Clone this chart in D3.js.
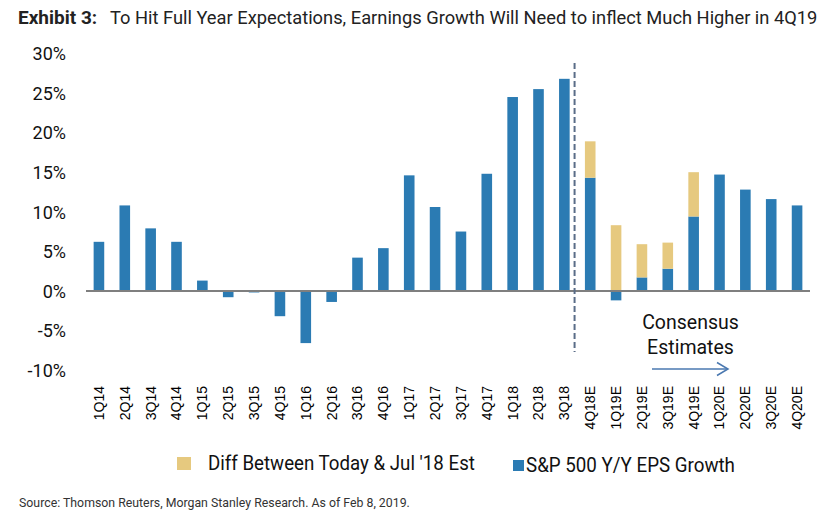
<!DOCTYPE html>
<html>
<head>
<meta charset="utf-8">
<script src="https://cdn.jsdelivr.net/npm/d3@7"></script>
<style>
  html, body { margin: 0; padding: 0; background: #fff; }
  svg { display: block; }
</style>
</head>
<body>
<svg id="chart" width="828" height="517"></svg>
<script>
// ---- data ----
const categories = ["1Q14","2Q14","3Q14","4Q14","1Q15","2Q15","3Q15","4Q15","1Q16","2Q16","3Q16","4Q16",
  "1Q17","2Q17","3Q17","4Q17","1Q18","2Q18","3Q18","4Q18E","1Q19E","2Q19E","3Q19E","4Q19E","1Q20E","2Q20E","3Q20E","4Q20E"];
const epsGrowth = [6.2,10.8,7.9,6.2,1.3,-0.8,-0.2,-3.2,-6.6,-1.4,4.2,5.4,
  14.6,10.6,7.5,14.8,24.5,25.5,26.8,14.3,-1.2,1.7,2.8,9.4,14.7,12.8,11.6,10.8];
const diffVsJul18 = [0,0,0,0,0,0,0,0,0,0,0,0,
  0,0,0,0,0,0,0,4.6,8.3,4.2,3.3,5.6,0,0,0,0];
const yTicks = [-10,-5,0,5,10,15,20,25,30];
const seriesNames = ["Diff Between Today & Jul '18 Est", "S&P 500 Y/Y EPS Growth"];
const colors = { diff: "#e6c97f", eps: "#2b7bb3" };

const svg = d3.select("#chart");

const x = d3.scaleBand().domain(categories).range([86, 810]).paddingInner(0.59).paddingOuter(0.295);
const y = d3.scaleLinear().domain([-10, 30]).range([370, 53.5]);

// helper: text squeezed horizontally to a target width (condensed look)
function fitText(parent, tx, ty, width, txt, attrs) {
  const g = parent.append("g");
  const t = g.append("text").attr("x", 0).attr("y", 0).text(txt);
  Object.entries(attrs).forEach(([k, v]) => t.attr(k, v));
  const w = t.node().getComputedTextLength();
  const sx = Math.min(1, width / w);
  g.attr("transform", `translate(${tx},${ty}) scale(${sx},1)`);
  return t;
}

// Title
fitText(svg, 18, 24, 82, "Exhibit 3:", { "font-family": "Roboto, sans-serif", "font-size": 19, "font-weight": "bold", fill: "#222" });
fitText(svg, 110, 24, 708, "To Hit Full Year Expectations, Earnings Growth Will Need to inflect Much Higher in 4Q19",
  { "font-family": "Roboto, sans-serif", "font-size": 19, fill: "#222" });

// Y axis labels
const yAxis = d3.axisLeft(y).tickValues(yTicks).tickSize(0).tickPadding(0).tickFormat(d => d + "%");
const ya = svg.append("g").attr("transform", "translate(66,0)").call(yAxis);
ya.select(".domain").remove();
ya.selectAll("text").attr("font-family", "Roboto, sans-serif").attr("font-size", 18).attr("fill", "#111").attr("dy", "0.35em");

// Stacked bars
const stackData = categories.map((c, i) => ({ cat: c, eps: epsGrowth[i], diff: diffVsJul18[i] }));
const stack = d3.stack().keys(["eps", "diff"]).offset(d3.stackOffsetDiverging);
const series = stack(stackData);
const g = svg.append("g");
series.forEach(s => {
  g.selectAll(null).data(s).enter().append("rect")
    .attr("x", d => x(d.data.cat))
    .attr("width", x.bandwidth())
    .attr("y", d => y(Math.max(d[0], d[1])))
    .attr("height", d => Math.abs(y(d[0]) - y(d[1])))
    .attr("fill", colors[s.key]);
});

// Zero line
svg.append("line").attr("x1", 86).attr("x2", 810).attr("y1", y(0)).attr("y2", y(0))
  .attr("stroke", "#7f7f7f").attr("stroke-width", 2);

// Dashed divider between actuals and estimates
const dashX = x("3Q18") + x.step() * 0.6;
svg.append("line").attr("x1", dashX).attr("x2", dashX).attr("y1", 63).attr("y2", 352)
  .attr("stroke", "#5a6d88").attr("stroke-width", 2).attr("stroke-dasharray", "6,3");

// X axis labels
const xAxis = d3.axisBottom(x).tickSize(0).tickPadding(0);
const xa = svg.append("g").attr("transform", "translate(0,386)").call(xAxis);
xa.select(".domain").remove();
xa.selectAll("text")
  .attr("font-family", "'Liberation Sans', Arial, sans-serif").attr("font-size", 14).attr("fill", "#000")
  .attr("text-anchor", "end").attr("dy", "0.35em").attr("dx", 0).attr("y", 0)
  .attr("transform", "rotate(-90)");

// Consensus Estimates annotation
const cx = 690.5;
svg.append("text").attr("x", cx).attr("y", 328.5).attr("text-anchor", "middle")
  .attr("font-family", "Roboto, sans-serif").attr("font-size", 19.5).attr("fill", "#111").text("Consensus");
svg.append("text").attr("x", cx).attr("y", 353.5).attr("text-anchor", "middle")
  .attr("font-family", "Roboto, sans-serif").attr("font-size", 19.5).attr("fill", "#111").text("Estimates");
svg.append("line").attr("x1", 652).attr("x2", 728).attr("y1", 369).attr("y2", 369)
  .attr("stroke", "#4a78b0").attr("stroke-width", 1.5);
svg.append("path").attr("d", "M717,362.5 L728,369 L717,375.5").attr("fill", "none")
  .attr("stroke", "#4a78b0").attr("stroke-width", 1.5);

// Legend
svg.append("rect").attr("x", 177).attr("y", 457).attr("width", 14).attr("height", 13).attr("fill", colors.diff);
fitText(svg, 208, 470, 267, seriesNames[0], { "font-family": "Roboto, sans-serif", "font-size": 21, fill: "#111" });
svg.append("rect").attr("x", 513).attr("y", 460).attr("width", 11).attr("height", 11).attr("fill", colors.eps);
fitText(svg, 526, 471.5, 209, seriesNames[1], { "font-family": "Roboto, sans-serif", "font-size": 21, fill: "#111" });

// Source
fitText(svg, 19, 507, 391, "Source: Thomson Reuters, Morgan Stanley Research. As of Feb 8, 2019.",
  { "font-family": "Roboto, sans-serif", "font-size": 12.5, fill: "#333" });
</script>
</body>
</html>
